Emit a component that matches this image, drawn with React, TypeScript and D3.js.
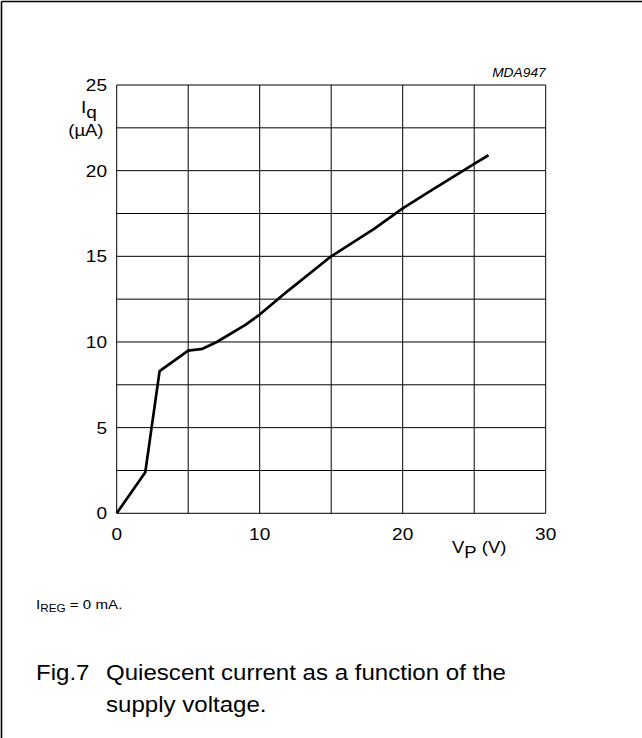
import React from "react";
import * as d3 from "d3";

const vp: number[] = [0, 2, 3, 5, 6, 7, 9, 10, 12, 15, 18, 20, 22, 25, 26];
const iq: number[] = [0, 2.4, 8.3, 9.5, 9.6, 10.0, 11.0, 11.6, 13.0, 15.0, 16.6, 17.8, 18.85, 20.4, 20.9];
const xTickLabels: number[] = [0, 10, 20, 30];
const yTickLabels: number[] = [0, 5, 10, 15, 20, 25];
const xGrid: number[] = [0, 5, 10, 15, 20, 25, 30];
const yGrid: number[] = [0, 2.5, 5, 7.5, 10, 12.5, 15, 17.5, 20, 22.5, 25];

const W = 642;
const H = 738;
const FONT = "'Liberation Sans', Arial, sans-serif";
const K = 1.12; // horizontal stretch of the reference lettering

type TP = {
  x: number;
  y: number;
  size: number;
  anchor?: "start" | "middle" | "end";
  italic?: boolean;
  children: React.ReactNode;
};

function T({ x, y, size, anchor = "start", italic = false, children }: TP) {
  return (
    <text
      transform={`translate(${x},${y}) scale(${K},1)`}
      textAnchor={anchor}
      fontFamily={FONT}
      fontSize={size}
      fontStyle={italic ? "italic" : "normal"}
      fill="#000"
    >
      {children}
    </text>
  );
}

export default function App() {
  const x = d3.scaleLinear().domain([0, 30]).range([116.7, 545.7]);
  const y = d3.scaleLinear().domain([0, 25]).range([513.3, 85]);
  const pts: [number, number][] = vp.map((v, i) => [v, iq[i]]);
  const line = d3
    .line<[number, number]>()
    .x((d) => x(d[0]))
    .y((d) => y(d[1]));

  return (
    <svg
      width={W}
      height={H}
      style={{ position: "absolute", left: 0, top: 0, background: "#fff" }}
    >
      {/* frame */}
      <line x1={1.5} y1={1.5} x2={W} y2={1.5} stroke="#000" strokeWidth={1.6} />
      <line x1={1.5} y1={1.5} x2={1.5} y2={H} stroke="#000" strokeWidth={1.6} />

      {/* grid */}
      {xGrid.map((v) => (
        <line key={"gx" + v} x1={x(v)} x2={x(v)} y1={y(0)} y2={y(25)} stroke="#000" strokeWidth={1} />
      ))}
      {yGrid.map((v) => (
        <line key={"gy" + v} x1={x(0)} x2={x(30)} y1={y(v)} y2={y(v)} stroke="#000" strokeWidth={1} />
      ))}

      {/* curve */}
      <path d={line(pts) || ""} fill="none" stroke="#000" strokeWidth={2.7} strokeLinejoin="round" />

      {/* y tick labels */}
      {yTickLabels.map((v) => (
        <T key={"yt" + v} x={107} y={y(v) + 6} size={17} anchor="end">
          {v}
        </T>
      ))}
      {/* x tick labels */}
      {xTickLabels.map((v) => (
        <T key={"xt" + v} x={x(v)} y={540} size={17} anchor="middle">
          {v}
        </T>
      ))}

      {/* y axis title */}
      <T x={81} y={113} size={17}>
        I<tspan dy={5}>q</tspan>
      </T>
      <T x={103.5} y={136} size={16.5} anchor="end">
        (µA)
      </T>

      {/* x axis title */}
      <T x={452} y={553} size={16.5}>
        V<tspan dy={5}>P</tspan>
        <tspan dy={-5}> (V)</tspan>
      </T>

      {/* code */}
      <T x={545.7} y={77} size={12.3} anchor="end" italic>
        MDA947
      </T>

      {/* note */}
      <T x={36} y={609} size={13.5}>
        I<tspan fontSize={10.5} dy={3}>REG</tspan>
        <tspan dy={-3}> = 0 mA.</tspan>
      </T>

      {/* caption */}
      <T x={36} y={680} size={21.5}>
        Fig.7
      </T>
      <T x={106} y={680} size={21.5}>
        Quiescent current as a function of the
      </T>
      <T x={106} y={712} size={21.5}>
        supply voltage.
      </T>
    </svg>
  );
}
